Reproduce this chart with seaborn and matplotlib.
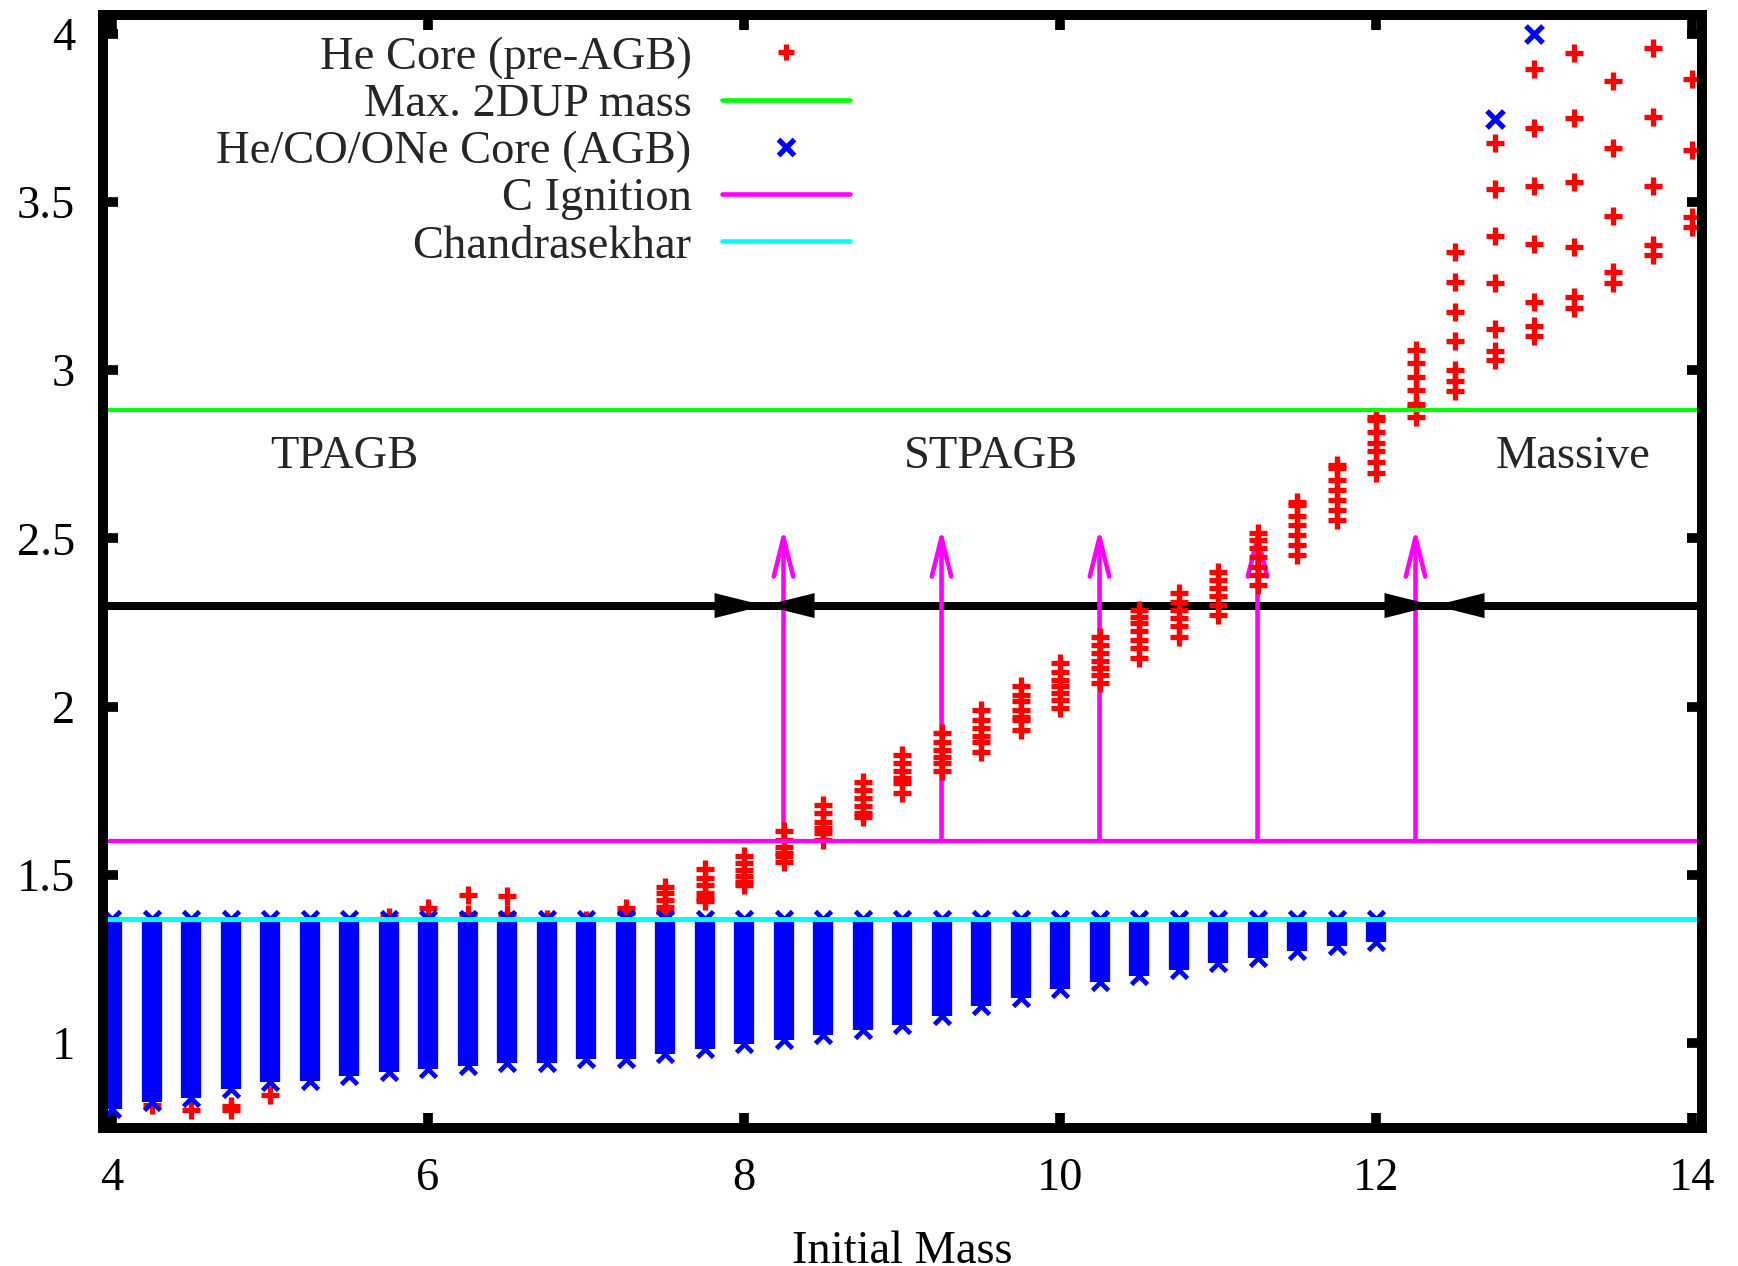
import numpy as np
import pandas as pd
import matplotlib
matplotlib.use("Agg")
import matplotlib.pyplot as plt
import seaborn as sns
from matplotlib.lines import Line2D
from matplotlib.patches import FancyArrowPatch

# ---------------- data ----------------
blue_masses = [4.0, 4.25, 4.5, 4.75, 5.0, 5.25, 5.5, 5.75, 6.0, 6.25, 6.5, 6.75,
               7.0, 7.25, 7.5, 7.75, 8.0, 8.25, 8.5, 8.75, 9.0, 9.25, 9.5, 9.75,
               10.0, 10.25, 10.5, 10.75, 11.0, 11.25, 11.5, 11.75, 12.0]
blue_low = [0.804, 0.824, 0.838, 0.863, 0.883, 0.888, 0.903, 0.913, 0.923, 0.933, 0.942, 0.942,
            0.952, 0.952, 0.967, 0.982, 0.997, 1.009, 1.024, 1.039, 1.054, 1.081, 1.109, 1.135,
            1.160, 1.180, 1.200, 1.218, 1.237, 1.254, 1.274, 1.289, 1.299]
blue_high = [1.368, 1.368, 1.368, 1.368, 1.368, 1.368, 1.368, 1.368, 1.368, 1.368, 1.368, 1.368,
             1.368, 1.368, 1.368, 1.368, 1.368, 1.368, 1.368, 1.368, 1.368, 1.368, 1.368, 1.368,
             1.368, 1.368, 1.368, 1.368, 1.368, 1.368, 1.368, 1.368, 1.368]
blue_extra_x = [12.75, 13.0]
blue_extra_y = [3.745, 3.998]

red_masses = [4.25, 4.5, 4.75, 5.0, 5.75, 6.0, 6.25, 6.5, 6.75, 7.0, 7.25, 7.5, 7.75, 8.0,
              8.25, 8.5, 8.75, 9.0, 9.25, 9.5, 9.75, 10.0, 10.25, 10.5, 10.75, 11.0, 11.25,
              11.5, 11.75, 12.0, 12.25, 12.5, 12.75, 13.0, 13.25, 13.5, 13.75, 14.0]
red_cores = [
    [0.815], [0.802], [0.800, 0.812], [0.846], [1.376], [1.40], [1.44, 1.384], [1.437, 1.384],
    [1.37], [1.366], [1.40, 1.385], [1.463, 1.445, 1.425, 1.405, 1.39],
    [1.517, 1.49, 1.47, 1.446, 1.43, 1.422],
    [1.555, 1.535, 1.515, 1.495, 1.48, 1.47],
    [1.629, 1.604, 1.584, 1.565, 1.555, 1.538],
    [1.706, 1.683, 1.658, 1.638, 1.623, 1.604],
    [1.777, 1.752, 1.727, 1.703, 1.683, 1.673],
    [1.857, 1.832, 1.807, 1.787, 1.772, 1.743],
    [1.921, 1.896, 1.871, 1.851, 1.832, 1.807],
    [1.99, 1.96, 1.936, 1.911, 1.896, 1.866],
    [2.06, 2.035, 2.015, 1.99, 1.97, 1.96, 1.93],
    [2.129, 2.104, 2.079, 2.06, 2.04, 2.02, 1.995],
    [2.208, 2.183, 2.159, 2.134, 2.114, 2.094, 2.07],
    [2.287, 2.267, 2.248, 2.223, 2.198, 2.173, 2.144],
    [2.337, 2.312, 2.287, 2.263, 2.238, 2.208],
    [2.401, 2.376, 2.352, 2.327, 2.302, 2.272],
    [2.515, 2.495, 2.47, 2.445, 2.416, 2.39, 2.36],
    [2.609, 2.60, 2.565, 2.54, 2.51, 2.48, 2.45],
    [2.718, 2.71, 2.674, 2.644, 2.614, 2.584, 2.555],
    [2.86, 2.85, 2.817, 2.783, 2.758, 2.728, 2.693],
    [3.06, 3.02, 2.98, 2.94, 2.90, 2.89, 2.86],
    [3.352, 3.263, 3.173, 3.087, 3.0, 2.967, 2.937],
    [3.674, 3.537, 3.398, 3.26, 3.121, 3.058, 3.03],
    [3.894, 3.72, 3.548, 3.375, 3.203, 3.13, 3.10],
    [3.941, 3.748, 3.558, 3.367, 3.218, 3.184],
    [3.859, 3.659, 3.458, 3.292, 3.258],
    [3.958, 3.753, 3.547, 3.372, 3.342],
    [3.864, 3.654, 3.456, 3.426],
]

max_2dup = 2.88
c_ignition = 1.60
chandrasekhar = 1.368
regime_y = 2.30
regime_bounds = [8.13, 12.37]
ign_arrow_x = [8.25, 9.25, 10.25, 11.25, 12.25]
ign_arrow_top = 2.53
region_names = ["TPAGB", "STPAGB", "Massive"]
region_x = [5.47, 9.56, 13.25]
region_y = 2.71

x_ticks = [4, 6, 8, 10, 12, 14]
y_ticks = [1, 1.5, 2, 2.5, 3, 3.5, 4]
y_tick_labels = ["1", "1.5", "2", "2.5", "3", "3.5", "4"]
legend_labels = ["He Core (pre-AGB)", "Max. 2DUP mass", "He/CO/ONe Core (AGB)",
                 "C Ignition", "Chandrasekhar"]

RED = "#ff0000"
BLUE = "#0000ff"
GREEN = "#00ff00"
MAGENTA = "#ff00ff"
CYAN = "#00ffff"
FS = 33.5

# ---------------- style ----------------
sns.set_theme(style="white")
plt.rcParams["font.family"] = ["Liberation Serif", "DejaVu Serif"]

fig = plt.figure(figsize=(17.38, 12.66), dpi=100)
ax = fig.add_axes([0.05926, 0.1090, 0.92003, 0.87915])

# red He-core points
red_df = pd.DataFrame({
    "mass": [m for m, ys in zip(red_masses, red_cores) for _ in ys],
    "core": [y for ys in red_cores for y in ys],
})
sns.scatterplot(data=red_df, x="mass", y="core", marker="+", color=RED, s=150,
                linewidth=3.8, ax=ax, zorder=2, legend=False)

# blue AGB core ranges (dense columns of x markers)
ax.vlines(blue_masses, blue_low, blue_high, colors=BLUE, lw=14.6, zorder=3)
ax.plot(blue_masses, blue_low, ls="none", marker="x", color=BLUE, ms=12.0, mew=3.4, zorder=3)
ax.plot(blue_masses, blue_high, ls="none", marker="x", color=BLUE, ms=12.0, mew=3.4, zorder=3)
sns.scatterplot(x=blue_extra_x, y=blue_extra_y, marker="x", color=BLUE, s=150,
                linewidth=3.8, ax=ax, zorder=3, legend=False)

# horizontal reference lines
ax.axhline(max_2dup, color=GREEN, lw=3.0, zorder=4)
ax.axhline(c_ignition, color=MAGENTA, lw=3.0, zorder=4)
ax.axhline(chandrasekhar, color=CYAN, lw=3.6, zorder=4)

ax.set_xlim(3.943, 14.063)
ax.set_ylim(0.7475, 4.055)

# regime line with filled arrow heads meeting at the boundaries
x_lo, x_hi = ax.get_xlim()
ax.hlines(regime_y, x_lo, x_hi, colors="black", lw=5.8, zorder=1.5)
head_style = "-|>,head_length=36,head_width=9"
for b in regime_bounds:
    for start in (x_lo, x_hi):
        p = FancyArrowPatch((start, regime_y), (b, regime_y), arrowstyle=head_style,
                            mutation_scale=1, lw=0, color="black",
                            shrinkA=0, shrinkB=0, zorder=1.6)
        ax.add_patch(p)

# carbon ignition arrows
for xa in ign_arrow_x:
    p = FancyArrowPatch((xa, c_ignition), (xa, ign_arrow_top),
                        arrowstyle="->,head_length=28,head_width=7",
                        mutation_scale=1, lw=3.3, color=MAGENTA,
                        shrinkA=0, shrinkB=0, zorder=1.5)
    ax.add_patch(p)

for name, xr in zip(region_names, region_x):
    ax.text(xr, region_y, name, ha="center", va="baseline", fontsize=FS, zorder=6)

# axes styling
for s in ax.spines.values():
    s.set_linewidth(7.2)
    s.set_color("black")
    s.set_zorder(10)
ax.set_xticks(x_ticks)
ax.set_xticklabels([str(t) for t in x_ticks])
ax.set_yticks(y_ticks)
ax.set_yticklabels(y_tick_labels)
ax.tick_params(axis="both", direction="in", length=10.8, width=7, color="black",
               bottom=True, top=True, left=True, right=True, labelsize=FS,
               labelcolor="black")
ax.tick_params(axis="x", pad=21)
ax.tick_params(axis="y", pad=20)
ax.set_xlabel("Initial Mass", fontsize=FS, labelpad=22, color="black")
ax.set_ylabel("")
ax.grid(False)

handles = [
    Line2D([], [], ls="none", marker="+", color=RED, ms=12, mew=3.8),
    Line2D([], [], color=GREEN, lw=3.3),
    Line2D([], [], ls="none", marker="x", color=BLUE, ms=12, mew=3.8),
    Line2D([], [], color=MAGENTA, lw=3.3),
    Line2D([], [], color=CYAN, lw=3.3),
]
leg = ax.legend(handles, legend_labels, loc="upper right", bbox_to_anchor=(0.467, 0.981),
                frameon=False, markerfirst=False, handlelength=2.75, handletextpad=0.65,
                labelspacing=0.10, borderpad=0, borderaxespad=0, fontsize=FS)
leg.set_zorder(7)

fig.savefig("out.png", dpi=100, facecolor="white")
